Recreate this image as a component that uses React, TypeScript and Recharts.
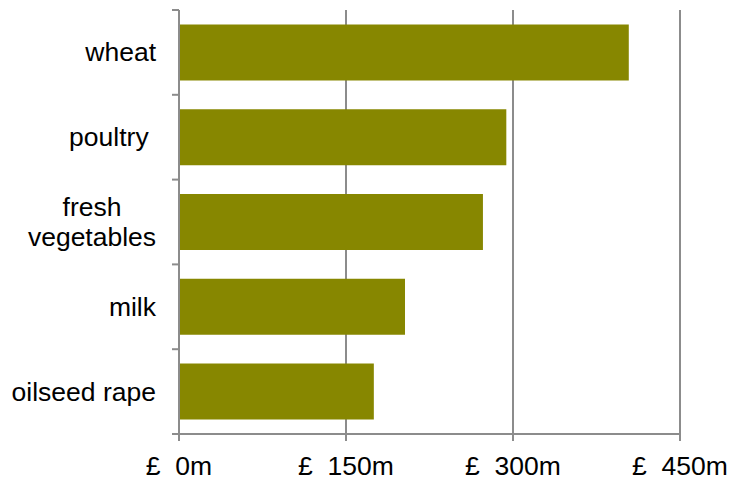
import React from 'react';
import { BarChart, Bar, XAxis, YAxis, CartesianGrid } from 'recharts';

const categories = ['wheat', 'poultry ', 'fresh vegetables', 'milk', 'oilseed rape'];
const values = [404, 294, 273, 203, 175];
const xTicks = [0, 150, 300, 450];

const data = categories.map((name, i) => ({ name, value: values[i] }));

const FONT = '"Liberation Sans", Arial, sans-serif';
const FS = 26.5;
const AXIS = '#8c8c8c';

// category labels: right aligned, wrapped lines centred on each other, ticks on band edges
function CategoryTick(props: any) {
  const { x, y, payload, index } = props;
  const half = payload && payload.offset ? payload.offset : 42.4;
  const label: string = payload.value;
  const lines = label === 'fresh vegetables' ? ['fresh', 'vegetables'] : [label];
  const right = x - 23;
  return (
    <g>
      <line x1={x - 7} x2={x} y1={y - half} y2={y - half} stroke={AXIS} strokeWidth={2} />
      {index === categories.length - 1 && (
        <line x1={x - 7} x2={x} y1={y + half} y2={y + half} stroke={AXIS} strokeWidth={2} />
      )}
      {lines.length === 1 ? (
        <text x={right} y={y} dy={9} textAnchor="end" fontSize={FS} fill="#000" fontFamily={FONT} style={{ whiteSpace: 'pre' }}>
          {label}
        </text>
      ) : (
        lines.map((l, i) => (
          <text key={i} x={right - 64} y={y + (i - 0.5) * 29.5} dy={9} textAnchor="middle" fontSize={FS} fill="#000" fontFamily={FONT}>
            {l}
          </text>
        ))
      )}
    </g>
  );
}

function MoneyTick(props: any) {
  const { x, payload } = props;
  return (
    <text x={x} y={475} textAnchor="middle" fontSize={FS} fill="#000" fontFamily={FONT} style={{ whiteSpace: 'pre' }}>
      {`£  ${payload.value}m`}
    </text>
  );
}

export default function App() {
  return (
    <div style={{ position: 'absolute', left: 0, top: 0, width: 740, height: 480, background: '#fff' }}>
      <BarChart
        width={740}
        height={480}
        data={data}
        layout="vertical"
        margin={{ top: 10, right: 60, bottom: 0, left: 0 }}
        barCategoryGap="17%"
      >
        <CartesianGrid horizontal={false} vertical stroke={AXIS} strokeWidth={2} />
        <XAxis
          type="number"
          domain={[0, 450]}
          ticks={xTicks}
          interval={0}
          height={46}
          stroke={AXIS}
          strokeWidth={2}
          tickSize={7}
          tick={<MoneyTick />}
        />
        <YAxis
          type="category"
          dataKey="name"
          width={179}
          stroke={AXIS}
          strokeWidth={2}
          tickLine={false}
          tickSize={0}
          tickMargin={0}
          interval={0}
          tick={<CategoryTick />}
        />
        <Bar dataKey="value" fill="#878700" isAnimationActive={false} />
      </BarChart>
    </div>
  );
}
